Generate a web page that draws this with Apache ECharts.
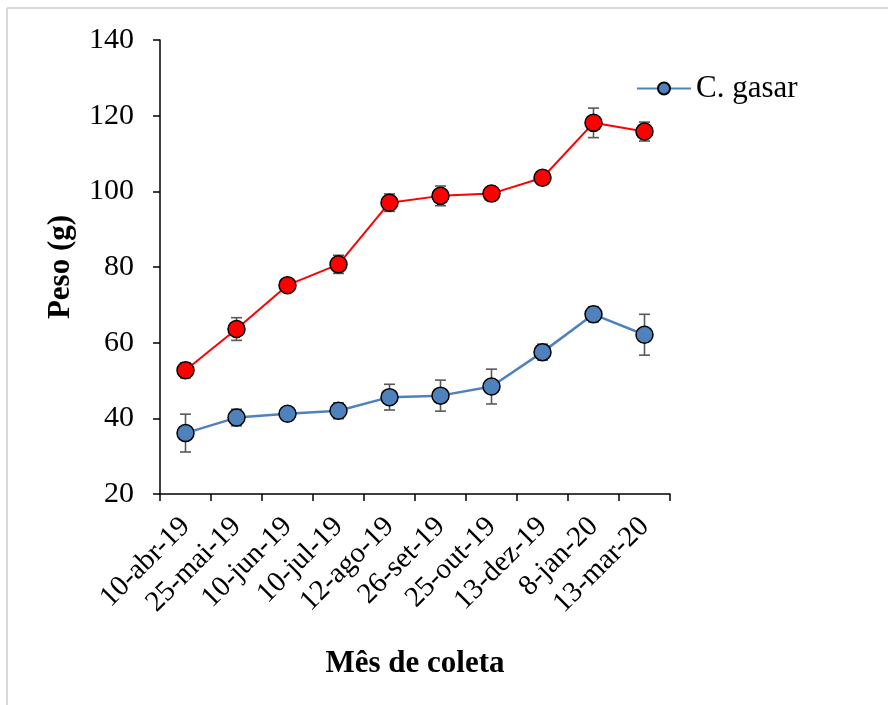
<!DOCTYPE html>
<html>
<head>
<meta charset="utf-8">
<script src="https://cdn.jsdelivr.net/npm/echarts@6/dist/echarts.min.js"></script>
<style>
html,body{margin:0;padding:0;background:#fff;}
#c{width:888px;height:705px;}
</style>
</head>
<body>
<div id="c"></div>
<script>
const categories = ['10-abr-19','25-mai-19','10-jun-19','10-jul-19','12-ago-19','26-set-19','25-out-19','13-dez-19','8-jan-20','13-mar-20'];
const redValues = [52.7, 63.6, 75.2, 80.7, 97.0, 98.8, 99.4, 103.6, 118.1, 115.8];
const redErr = [2.0, 3.0, 0.6, 2.4, 2.3, 2.6, 0.8, 0.8, 3.9, 2.5];
const blueValues = [36.1, 40.2, 41.2, 42.0, 45.6, 46.0, 48.4, 57.5, 67.5, 62.1];
const blueErr = [5.0, 2.2, 0.8, 2.1, 3.4, 4.1, 4.6, 2.1, 2.0, 5.4];
const yTicks = {min: 20, max: 140, interval: 20};

const chart = echarts.init(document.getElementById('c'), null, {renderer: 'canvas'});
const FONT = '"Liberation Serif", "Times New Roman", serif';

function errSeries(vals, errs) {
  return {
    type: 'custom',
    z: 1,
    silent: true,
    data: vals.map((v, i) => [i, v - errs[i], v + errs[i]]),
    renderItem: function (params, api) {
      const lo = api.coord([api.value(0), api.value(1)]);
      const hi = api.coord([api.value(0), api.value(2)]);
      const w = 5.5;
      const style = {stroke: '#595959', lineWidth: 1.6};
      return {
        type: 'group',
        children: [
          {type: 'line', shape: {x1: lo[0], y1: lo[1], x2: hi[0], y2: hi[1]}, style: style},
          {type: 'line', shape: {x1: lo[0] - w, y1: lo[1], x2: lo[0] + w, y2: lo[1]}, style: style},
          {type: 'line', shape: {x1: hi[0] - w, y1: hi[1], x2: hi[0] + w, y2: hi[1]}, style: style}
        ]
      };
    }
  };
}

chart.setOption({
  animation: false,
  backgroundColor: '#fff',
  graphic: [
    {type: 'line', shape: {x1: 7, y1: 8, x2: 888, y2: 8}, style: {stroke: '#d9d9d9', lineWidth: 2}},
    {type: 'line', shape: {x1: 7, y1: 8, x2: 7, y2: 705}, style: {stroke: '#d9d9d9', lineWidth: 2}}
  ],
  grid: {left: 160, right: 218, top: 40, bottom: 211},
  legend: {
    left: 636, top: 73, padding: 0,
    itemWidth: 54, itemHeight: 15, itemGap: 5,
    data: ['C. gasar'],
    textStyle: {fontFamily: FONT, fontSize: 31, color: '#000', padding: [0, 0, 0, 0]}
  },
  xAxis: {
    type: 'category',
    data: categories,
    boundaryGap: true,
    name: 'Mês de coleta',
    nameLocation: 'middle',
    nameGap: 154,
    nameTextStyle: {fontFamily: FONT, fontSize: 31, fontWeight: 'bold', color: '#000'},
    axisLine: {lineStyle: {color: '#000', width: 1.5}},
    axisTick: {show: true, length: 7, alignWithLabel: false, lineStyle: {color: '#000', width: 1.5}},
    axisLabel: {rotate: 45, interval: 0, margin: 28, fontFamily: FONT, fontSize: 29, color: '#000'}
  },
  yAxis: {
    type: 'value',
    min: yTicks.min, max: yTicks.max, interval: yTicks.interval,
    name: 'Peso (g)',
    nameLocation: 'middle',
    nameGap: 84,
    nameTextStyle: {fontFamily: FONT, fontSize: 31, fontWeight: 'bold', color: '#000'},
    splitLine: {show: false},
    axisLine: {show: true, lineStyle: {color: '#000', width: 1.5}},
    axisTick: {show: true, length: 7, lineStyle: {color: '#000', width: 1.5}},
    axisLabel: {margin: 26, fontFamily: FONT, fontSize: 30, color: '#000'}
  },
  series: [
    errSeries(redValues, redErr),
    errSeries(blueValues, blueErr),
    {
      name: 'red',
      type: 'line',
      z: 3,
      data: redValues,
      symbol: 'circle', symbolSize: 17,
      lineStyle: {color: '#ff0000', width: 2},
      itemStyle: {color: '#ff0000', borderColor: '#000', borderWidth: 1.5}
    },
    {
      name: 'C. gasar',
      type: 'line',
      z: 3,
      data: blueValues,
      symbol: 'circle', symbolSize: 17,
      lineStyle: {color: '#4f81bd', width: 2.5},
      itemStyle: {color: '#4f81bd', borderColor: '#000', borderWidth: 1.5}
    }
  ]
});
</script>
</body>
</html>
